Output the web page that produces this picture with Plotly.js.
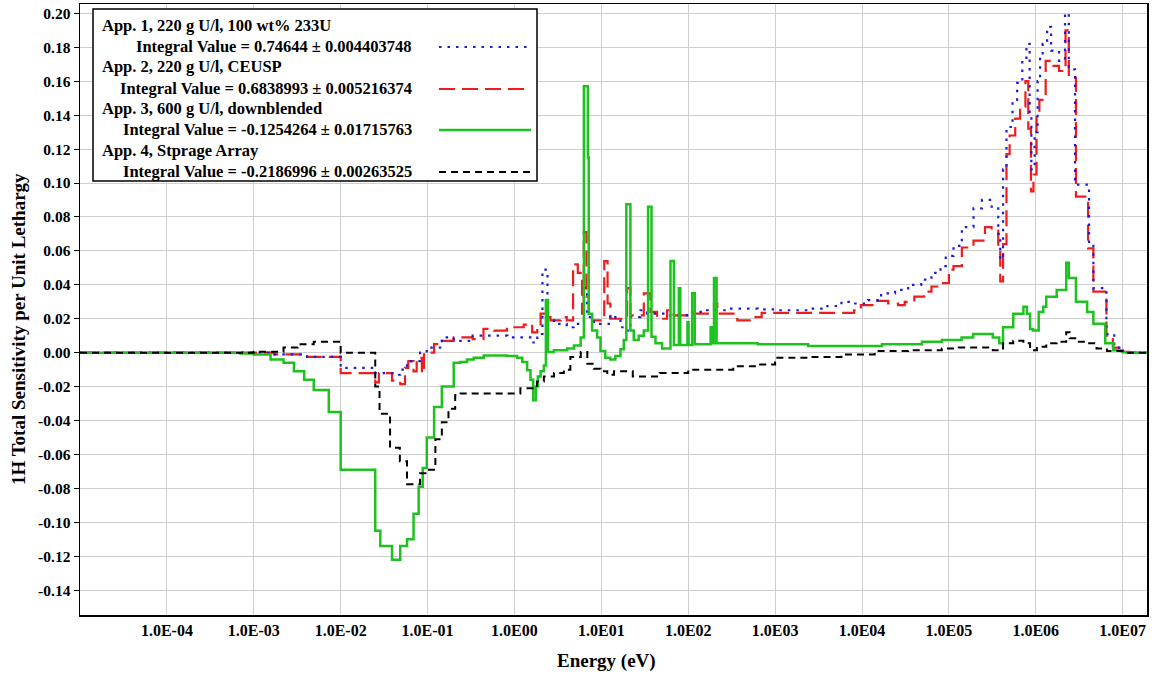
<!DOCTYPE html>
<html>
<head>
<meta charset="utf-8">
<script src="https://cdn.plot.ly/plotly-3.0.1.min.js"></script>
<style>html,body{margin:0;padding:0;background:#fff;}#chart{width:1154px;height:679px;}</style>
</head>
<body>
<div id="chart"></div>
<script>
// ---------------- DATA (energy in eV = lower bin edge, value = sensitivity per unit lethargy) ----------------
const seriesNames = [
  "App. 1, 220 g U/l, 100 wt% 233U",
  "App. 2, 220 g U/l, CEUSP",
  "App. 3, 600 g U/l, downblended",
  "App. 4, Stprage Array"
];
const integralLabels = [
  "Integral Value = 0.74644 \u00b1 0.004403748",
  "Integral Value = 0.6838993 \u00b1 0.005216374",
  "Integral Value = -0.1254264 \u00b1 0.01715763",
  "Integral Value = -0.2186996 \u00b1 0.00263525"
];
const xTitle = "Energy (eV)";
const yTitle = "1H Total Sensitivity per Unit Lethargy";

const eApp1 = [1e-5,1e-3,1.7e-3,4.1e-3,1e-2,2.5e-2,4.5e-2,4.85e-2,5.8e-2,8.2e-2,9.8e-2,0.146,0.2,0.33,0.83,1.6,1.83,2.1,2.4,2.85,4.0,4.8,6.3,6.85,8.2,12.7,14.5,16.6,18.9,21.6,28.2,33.6,57,97,165,280,630,1000,2400,4000,5800,8100,11700,16600,24000,34000,48000,63000,80000,92000,1.13e5,1.41e5,1.92e5,2.4e5,3.1e5,3.7e5,3.9e5,4.2e5,4.6e5,5.4e5,6.1e5,7.0e5,7.8e5,8.5e5,8.9e5,9.7e5,1.05e6,1.12e6,1.2e6,1.35e6,1.5e6,1.85e6,2.17e6,2.4e6,2.83e6,4.1e6,4.6e6,6.5e6,8e6,1e7,1.2e7,2e7];
const vApp1 = [0,0,-0.001,-0.0025,-0.009,-0.012,-0.013,-0.010,-0.005,0.000,0.003,0.009,0.007,0.010,0.009,0.006,0.011,0.049,0.019,0.017,0.015,0.017,0.038,0.021,0.017,0.022,0.020,0.015,0.013,0.021,0.025,0.023,0.022,0.024,0.025,0.026,0.0255,0.025,0.026,0.0275,0.030,0.029,0.031,0.035,0.037,0.040,0.043,0.047,0.051,0.057,0.063,0.074,0.085,0.090,0.086,0.070,0.055,0.108,0.133,0.149,0.159,0.172,0.182,0.140,0.108,0.130,0.160,0.174,0.182,0.192,0.178,0.172,0.200,0.167,0.099,0.064,0.038,0.011,0.003,0.0005,0,0];

const eApp2 = [1e-5,1e-3,1.7e-3,4.1e-3,1e-2,2.5e-2,2.75e-2,3.9e-2,4.85e-2,5.5e-2,6.0e-2,6.9e-2,7.5e-2,8.6e-2,9.1e-2,9.8e-2,0.119,0.146,0.2,0.33,0.44,0.58,0.82,1.0,1.28,1.4,1.6,1.83,2.0,2.38,2.6,3.4,4.0,4.73,5.36,6.0,6.28,6.74,7.17,7.83,10.8,11.8,12.7,19.8,21.6,30.8,36.7,43.8,57,68,97,198,216,367,573,700,8100,9700,13800,20000,26000,31000,40000,52000,63000,81000,1e5,1.13e5,1.41e5,1.92e5,2.6e5,3.1e5,3.7e5,3.9e5,4.2e5,4.6e5,5.0e5,5.8e5,6.6e5,7.6e5,8.2e5,8.8e5,9.4e5,1.02e6,1.1e6,1.3e6,1.45e6,1.85e6,2.2e6,2.4e6,2.9e6,4.0e6,4.6e6,6.5e6,7.7e6,1e7,1.2e7,2e7];
const vApp2 = [0,0,-0.001,-0.0025,-0.012,-0.0175,-0.012,-0.0165,-0.0185,-0.009,-0.005,-0.011,-0.003,-0.012,-0.001,0.000,0.005,0.007,0.009,0.008,0.014,0.013,0.014,0.015,0.0165,0.017,0.012,0.015,0.023,0.021,0.019,0.021,0.019,0.052,0.047,0.023,0.071,0.033,0.025,0.019,0.054,0.029,0.020,0.038,0.022,0.035,0.024,0.020,0.025,0.022,0.023,0.029,0.023,0.019,0.021,0.0235,0.025,0.028,0.0305,0.029,0.028,0.030,0.033,0.036,0.039,0.041,0.049,0.051,0.062,0.066,0.074,0.072,0.062,0.042,0.064,0.117,0.128,0.138,0.145,0.160,0.132,0.095,0.105,0.139,0.149,0.172,0.169,0.166,0.190,0.162,0.092,0.0615,0.036,0.010,0.003,0.0005,0,0];

const eApp3 = [1e-5,7e-4,1e-3,1.56e-3,2.2e-3,2.9e-3,3.8e-3,4.9e-3,7.3e-3,1e-2,2.5e-2,2.86e-2,3.9e-2,4.85e-2,5.8e-2,6.9e-2,7.9e-2,8.8e-2,9.8e-2,0.119,0.146,0.2,0.238,0.284,0.34,0.443,0.82,1.07,1.23,1.4,1.53,1.64,1.76,1.86,2.0,2.18,2.3,2.43,2.84,4.05,4.84,5.78,6.3,7.0,7.16,7.83,8.93,9.77,11.1,12.7,14.5,16.6,18.1,19.4,21.6,23.6,26.9,30.8,34.5,37.8,42,50,62.5,68.4,78,81,98,101,111,119,181,190,198,212,630,2400,17000,49000,83000,1.4e5,1.9e5,3.2e5,3.8e5,4.2e5,5.5e5,7.2e5,7.9e5,8.6e5,9.3e5,1.08e6,1.22e6,1.32e6,1.74e6,2.24e6,2.4e6,2.9e6,3.9e6,4.6e6,6.3e6,7.8e6,1e7,1.4e7,2e7];
const vApp3 = [0,-0.0005,-0.001,-0.004,-0.006,-0.011,-0.016,-0.022,-0.035,-0.069,-0.105,-0.114,-0.122,-0.114,-0.110,-0.095,-0.079,-0.068,-0.050,-0.032,-0.020,-0.006,-0.0055,-0.004,-0.003,-0.0016,-0.002,-0.003,-0.0055,-0.0104,-0.016,-0.028,-0.020,-0.014,-0.011,-0.0075,0.031,0.0004,0.0014,0.0024,0.0043,0.009,0.157,0.115,0.023,0.013,0.009,0.001,-0.003,-0.004,-0.002,0.002,0.0075,0.0875,0.013,0.0075,0.010,0.013,0.086,0.0094,0.0055,0.0025,0.054,0.0045,0.038,0.0045,0.018,0.0045,0.035,0.005,0.015,0.0055,0.044,0.0055,0.005,0.004,0.005,0.0065,0.0075,0.009,0.011,0.009,0.0055,0.015,0.023,0.027,0.023,0.014,0.013,0.024,0.027,0.033,0.037,0.053,0.044,0.030,0.024,0.017,0.0055,0.0015,0.0003,0,0];

const eApp4 = [1e-5,1e-3,2.2e-3,3.2e-3,4.9e-3,1e-2,2.5e-2,2.8e-2,3.7e-2,4.8e-2,5.8e-2,8.2e-2,0.1,0.123,0.146,0.174,0.208,0.24,1.17,1.82,2.18,2.85,3.7,4.4,5.8,6.9,8.2,9.8,11.7,14,23,47,100,330,630,1000,2400,5800,14000,34000,83000,1.3e5,3.2e5,4.2e5,5.5e5,7.2e5,8.6e5,1.03e6,1.32e6,1.74e6,2.24e6,2.45e6,3e6,3.8e6,5e6,6.6e6,1e7,2e7];
const vApp4 = [0,0.0005,0.003,0.005,0.0065,0.0,-0.020,-0.036,-0.056,-0.064,-0.0775,-0.071,-0.069,-0.051,-0.041,-0.033,-0.025,-0.024,-0.021,-0.017,-0.014,-0.012,-0.010,-0.0025,0.0004,-0.0065,-0.0094,-0.011,-0.013,-0.011,-0.014,-0.012,-0.010,-0.008,-0.007,-0.003,-0.0025,-0.001,0.001,0.0015,0.0025,0.003,0.0015,0.0055,0.007,0.0055,0.0015,0.0035,0.0055,0.0065,0.012,0.0085,0.0065,0.0055,0.0025,0.001,0,0];

const xTickVals = [1e-4,1e-3,1e-2,1e-1,1e0,1e1,1e2,1e3,1e4,1e5,1e6,1e7];
const xTickText = ["1.0E-04","1.0E-03","1.0E-02","1.0E-01","1.0E00","1.0E01","1.0E02","1.0E03","1.0E04","1.0E05","1.0E06","1.0E07"];
const yTickVals = [-0.14,-0.12,-0.10,-0.08,-0.06,-0.04,-0.02,0.00,0.02,0.04,0.06,0.08,0.10,0.12,0.14,0.16,0.18,0.20];

// ---------------- STYLE ----------------
const FONT = "Liberation Serif, Times New Roman, serif";
const styles = [
  {color:"#1a1adc", width:2.2, dash:"2.5px,6px"},
  {color:"#ee1c1c", width:2.2, dash:"16px,7px"},
  {color:"#1ec21e", width:2.5, dash:"solid"},
  {color:"#000000", width:2.0, dash:"7px,5px"}
];
const xs = [eApp1,eApp2,eApp3,eApp4];
const ys = [vApp1,vApp2,vApp3,vApp4];
const drawOrder = [1,0,2,3];
const traces = drawOrder.map(i => ({
  x: xs[i], y: ys[i], type: "scatter", mode: "lines", name: seriesNames[i],
  line: {color: styles[i].color, width: styles[i].width, dash: styles[i].dash, shape: "hv"},
  hoverinfo: "skip"
}));

// plot area in pixels
const L = 80, R = 7, T = 4, B = 64, W = 1154, H = 679;
const pw = W - L - R, ph = H - T - B;
const px = x => (x - L) / pw;
const py = y => (H - B - y) / ph;

const annotations = [];
const shapes = [];
shapes.push({type:"rect", xref:"paper", yref:"paper", x0:px(93), x1:px(537), y0:py(181), y1:py(9),
  line:{color:"#000", width:1.5}, fillcolor:"#fff", layer:"above"});
const headerY = [25, 66, 108, 150];
const valueY = [46, 88, 129, 171];
for (let i = 0; i < 4; i++) {
  annotations.push({xref:"paper", yref:"paper", x:px(100), y:py(headerY[i]), xanchor:"left", yanchor:"middle",
    text: seriesNames[i], showarrow:false, font:{family:FONT, size:16.5, color:"#000", weight:"bold"}});
  annotations.push({xref:"paper", yref:"paper", x:px(414), y:py(valueY[i]), xanchor:"right", yanchor:"middle",
    text: integralLabels[i], showarrow:false, font:{family:FONT, size:16.5, color:"#000", weight:"bold"}});
  shapes.push({type:"line", xref:"paper", yref:"paper", x0:px(439), x1:px(531), y0:py(valueY[i]+1), y1:py(valueY[i]+1),
    line:{color:styles[i].color, width:styles[i].width, dash:styles[i].dash}, layer:"above"});
}
// axis titles
annotations.push({xref:"paper", yref:"paper", x:px(18), y:py(329), xanchor:"center", yanchor:"middle", textangle:-90,
  text: yTitle, showarrow:false, font:{family:FONT, size:19, color:"#000", weight:"bold"}});
annotations.push({xref:"paper", yref:"paper", x:px(606), y:py(661), xanchor:"center", yanchor:"middle",
  text: xTitle, showarrow:false, font:{family:FONT, size:19, color:"#000", weight:"bold"}});

const layout = {
  width: W, height: H,
  margin: {l:L, r:R, t:T, b:B, pad:0},
  paper_bgcolor: "#fff", plot_bgcolor: "#fff",
  showlegend: false,
  font: {family: FONT, color:"#000"},
  xaxis: {
    type: "log", range: [-5, 7.28], tickmode: "array", tickvals: xTickVals, ticktext: xTickText,
    showgrid: true, gridcolor: "#cfcfcf", gridwidth: 1, zeroline: false,
    showline: true, linecolor: "#000", linewidth: 1.5, mirror: true, ticks: "",
    tickfont: {family: FONT, size: 16, color:"#000", weight:"bold"}
  },
  yaxis: {
    range: [-0.1546, 0.2055], tickmode: "array", tickvals: yTickVals, ticktext: yTickVals.map(v => v.toFixed(2)),
    showgrid: true, gridcolor: "#cfcfcf", gridwidth: 1, zeroline: false,
    showline: true, linecolor: "#000", linewidth: 1.5, mirror: true, ticks: "outside", ticklen: 5, tickcolor:"#000",
    tickfont: {family: FONT, size: 15.5, color:"#000", weight:"bold"}
  },
  shapes: shapes,
  annotations: annotations
};

Plotly.newPlot("chart", traces, layout, {displayModeBar: false, staticPlot: true});
</script>
</body>
</html>
